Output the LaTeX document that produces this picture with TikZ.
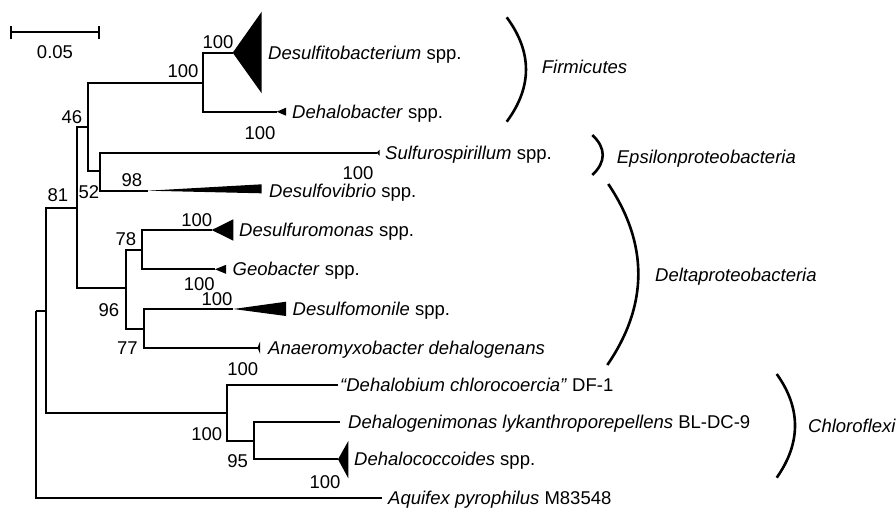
\documentclass[tikz,border=0pt]{standalone}
\usepackage{fontspec}
\setmainfont{Liberation Sans}

\begin{document}
\begin{tikzpicture}[x=1pt,y=-1pt]
\tikzset{
  branch/.style={line width=2.2pt},
  collapsed/.style={fill=black},
  taxon/.style={anchor=west,inner sep=0pt,text height=13pt,text depth=0pt,font=\fontsize{18.5}{22}\selectfont},
  support/.style={inner sep=0pt,text height=13pt,text depth=0pt,font=\fontsize{18.5}{22}\selectfont},
  group/.style={anchor=west,inner sep=0pt,text height=13pt,text depth=0pt,font=\fontsize{18.5}{22}\selectfont\itshape},
  bracket/.style={line width=2.6pt}
}
\useasboundingbox (0,0) rectangle (896,507);
\coordinate (n_root) at (36,310.7);
\coordinate (n_a) at (45.7,310.7);
\coordinate (n_81) at (76.7,208.3);
\coordinate (n_46) at (87.7,126.7);
\coordinate (n_firm) at (203,82.7);
\coordinate (n_52) at (100,170.7);
\coordinate (n_96) at (126,288.3);
\coordinate (n_78) at (142.3,250);
\coordinate (n_77) at (144.3,329);
\coordinate (n_chl) at (226.7,412.7);
\coordinate (n_95) at (254,441);
\coordinate (t_dsb) at (232.7,52.7);
\coordinate (t_dhb) at (276.7,111.7);
\coordinate (t_sul) at (376.7,152.7);
\coordinate (t_dvb) at (148,190.7);
\coordinate (t_dsm) at (211.7,230);
\coordinate (t_geo) at (215,269.3);
\coordinate (t_dml) at (233.3,309);
\coordinate (t_ana) at (257.5,347.7);
\coordinate (t_dhm) at (337.7,385);
\coordinate (t_dgm) at (340,421.7);
\coordinate (t_dhc) at (338,459.3);
\coordinate (t_aqu) at (381.7,497.7);
\draw[branch] (n_root) |- (n_a);
\draw[branch] (n_root) |- (t_aqu);
\draw[branch] (n_a) |- (n_81);
\draw[branch] (n_a) |- (n_chl);
\draw[branch] (n_81) |- (n_46);
\draw[branch] (n_81) |- (n_96);
\draw[branch] (n_46) |- (n_firm);
\draw[branch] (n_46) |- (n_52);
\draw[branch] (n_firm) |- (t_dsb);
\draw[branch] (n_firm) |- (t_dhb);
\draw[branch] (n_52) |- (t_sul);
\draw[branch] (n_52) |- (t_dvb);
\draw[branch] (n_96) |- (n_78);
\draw[branch] (n_96) |- (n_77);
\draw[branch] (n_78) |- (t_dsm);
\draw[branch] (n_78) |- (t_geo);
\draw[branch] (n_77) |- (t_dml);
\draw[branch] (n_77) |- (t_ana);
\draw[branch] (n_chl) |- (t_dhm);
\draw[branch] (n_chl) |- (n_95);
\draw[branch] (n_95) |- (t_dgm);
\draw[branch] (n_95) |- (t_dhc);
\fill[collapsed] (t_dsb) -- ++(29,-41) -- ++(0,81.6) -- cycle;
\fill[collapsed] (t_dhb) -- ++(9.3,-4) -- ++(0,8) -- cycle;
\fill[collapsed] (t_sul) -- ++(3,-3) -- ++(0,6) -- cycle;
\fill[collapsed] (t_dvb) -- ++(113.7,-6.4) -- ++(0,9) -- cycle;
\fill[collapsed] (t_dsm) -- ++(21.6,-10.7) -- ++(0,21.4) -- cycle;
\fill[collapsed] (t_geo) -- ++(11,-4.5) -- ++(0,9) -- cycle;
\fill[collapsed] (t_dml) -- ++(52.7,-7.3) -- ++(0,14.3) -- cycle;
\fill[collapsed] (t_ana) -- ++(2.5,-6) -- ++(0,12) -- cycle;
\fill[collapsed] (t_dhc) -- ++(10.3,-18.3) -- ++(0,37.3) -- cycle;
\node[taxon] (l_dsb) at (268,52.7) {\textit{Desulfitobacterium} spp.};
\node[taxon] (l_dhb) at (292,111.7) {\textit{Dehalobacter} spp.};
\node[taxon] (l_sul) at (385,152.7) {\textit{Sulfurospirillum} spp.};
\node[taxon] (l_dvb) at (269,190.7) {\textit{Desulfovibrio} spp.};
\node[taxon] (l_dsm) at (239,230) {\textit{Desulfuromonas} spp.};
\node[taxon] (l_geo) at (232.5,269.3) {\textit{Geobacter} spp.};
\node[taxon] (l_dml) at (292.5,309) {\textit{Desulfomonile} spp.};
\node[taxon] (l_ana) at (268,347.7) {\textit{Anaeromyxobacter dehalogenans}};
\node[taxon] (l_dhm) at (340,385) {\textit{“Dehalobium chlorocoercia”} DF-1};
\node[taxon] (l_dgm) at (348,421.7) {\textit{Dehalogenimonas lykanthroporepellens} BL-DC-9};
\node[taxon] (l_dhc) at (354,459.3) {\textit{Dehalococcoides} spp.};
\node[taxon] (l_aqu) at (388,497.7) {\textit{Aquifex pyrophilus} M83548};
\node[support] (b_dsb) at (218,42) {100};
\node[support] (b_firm) at (183,71) {100};
\node[support] (b_dhb) at (260,133) {100};
\node[support] (b_46) at (72,117) {46};
\node[support] (b_sul) at (358,173) {100};
\node[support] (b_dvb) at (132,180) {98};
\node[support] (b_52) at (89,191.5) {52};
\node[support] (b_81) at (58,195) {81};
\node[support] (b_dsm) at (196.7,220) {100};
\node[support] (b_78) at (126,239.3) {78};
\node[support] (b_geo) at (199.3,284.3) {100};
\node[support] (b_dml) at (217,299) {100};
\node[support] (b_96) at (109,310) {96};
\node[support] (b_77) at (127.3,348.3) {77};
\node[support] (b_ana) at (242.7,369.3) {100};
\node[support] (b_chl) at (206.7,434.3) {100};
\node[support] (b_95) at (237.7,461) {95};
\node[support] (b_dhc) at (325,481.7) {100};
\coordinate (s_left) at (11,32.3);
\coordinate (s_right) at (99.3,32.3);
\draw[branch] (s_left) -- (s_right);
\draw[branch] ([yshift=-7pt]s_left) -- ([yshift=6pt]s_left);
\draw[branch] ([yshift=-7pt]s_right) -- ([yshift=6pt]s_right);
\node[support] (l_scale) at (55,52) {0.05};
\draw[bracket] (506.7,17.3) .. controls (532.4,52) and (532.4,87) .. (506.7,121.7);
\draw[bracket] (592.3,135) .. controls (606.2,148) and (606.2,162) .. (592.3,175);
\draw[bracket] (608.3,184) .. controls (648.5,244) and (648.5,305) .. (607.3,365);
\draw[bracket] (776.7,374) .. controls (801.1,408) and (801.1,443) .. (776.7,477.7);
\node[group] (g_firm) at (541.7,66.7) {Firmicutes};
\node[group] (g_eps) at (616.7,156.7) {Epsilonproteobacteria};
\node[group] (g_del) at (655,275) {Deltaproteobacteria};
\node[group] (g_chl) at (808,425.7) {Chloroflexi};
\end{tikzpicture}
\end{document}
